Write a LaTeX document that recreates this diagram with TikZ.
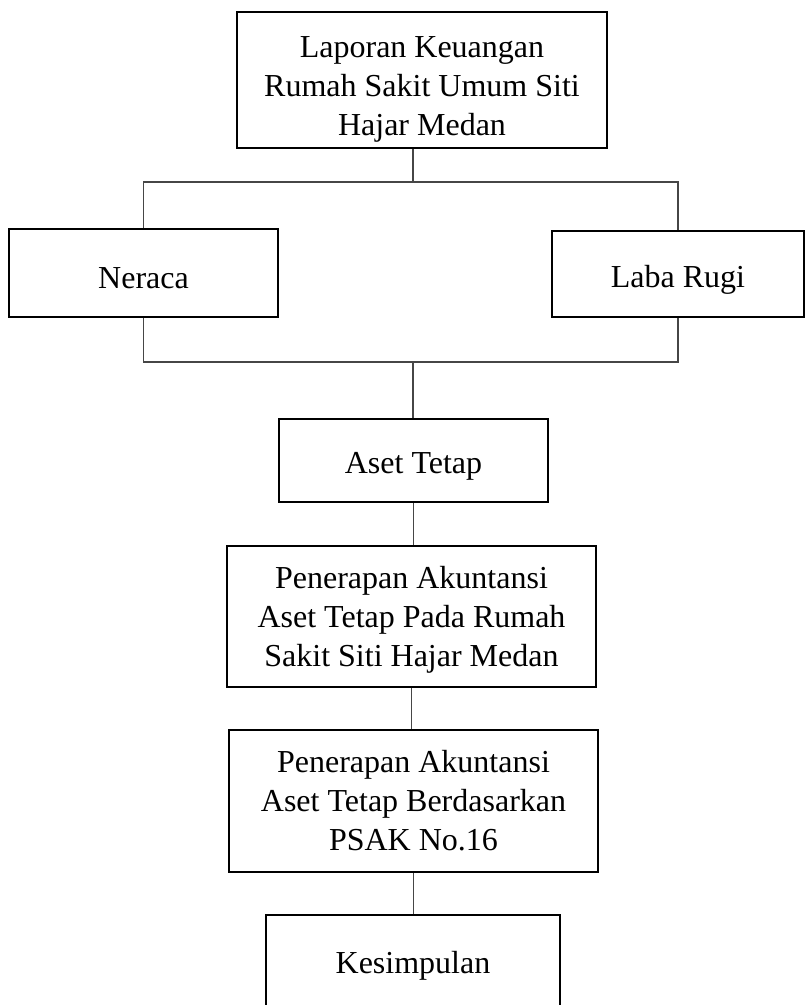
\documentclass[tikz,border=0pt]{standalone}
\usepackage{fontspec}
\setmainfont{Liberation Serif}
\usepackage{tikz}
\usetikzlibrary{calc}
\definecolor{linkgray}{RGB}{70,70,70}

\tikzset{
  box/.style={draw,line width=1.3pt,align=center,inner sep=0pt,
    font=\fontsize{16}{19.5}\selectfont},
  lower/.style={text height=#1},
  link/.style={draw=linkgray,line width=0.7pt}
}

\begin{document}
\begin{tikzpicture}[x=0.5pt,y=-0.5pt]
    \useasboundingbox (0,0) rectangle (806,1005);
    \clip (0,0) rectangle (806,1005);
    % Boxes
    \node[box,lower=58.5pt,minimum width=185pt,minimum height=68pt] (lapor) at (422,80)
      {Laporan Keuangan\\Rumah Sakit Umum Siti\\Hajar Medan};
    \node[box,lower=16pt,minimum width=134.5pt,minimum height=44pt] (neraca) at (143.5,273) {Neraca};
    \node[box,lower=17pt,minimum width=126pt,minimum height=43pt] (laba) at (678,274) {Laba Rugi};
    \node[box,lower=16.5pt,minimum width=134.5pt,minimum height=41.5pt] (aset) at (413.5,460.5) {Aset Tetap};
    \node[box,lower=53.5pt,minimum width=184.5pt,minimum height=70.5pt] (terapRS) at (411.5,616.5)
      {Penerapan Akuntansi\\Aset Tetap Pada Rumah\\Sakit Siti Hajar Medan};
    \node[box,minimum width=184.5pt,minimum height=71pt] (terapPSAK) at (413.5,801)
      {Penerapan Akuntansi\\Aset Tetap Berdasarkan\\PSAK No.16};
    \node[box,lower=15pt,minimum width=147pt,minimum height=47pt] (simpul) at (413,962) {Kesimpulan};
    % Branch lines
    \coordinate (top bus) at (413,182);
    \coordinate (low bus) at (413,362);
    \draw[link] (top bus) -- (top bus |- lapor.south);
    \draw[link] (neraca.north) |- (top bus) -| (laba.north);
    \draw[link] (neraca.south) |- (low bus) -| (laba.south);
    \draw[link] (low bus) -- (low bus |- aset.north);
    % Main flow
    \draw[link] (aset.south) -- (aset.south |- terapRS.north);
    \draw[link] (terapRS.south) -- (terapRS.south |- terapPSAK.north);
    \draw[link] (terapPSAK.south) -- (terapPSAK.south |- simpul.north);
  \end{tikzpicture}
\end{document}
